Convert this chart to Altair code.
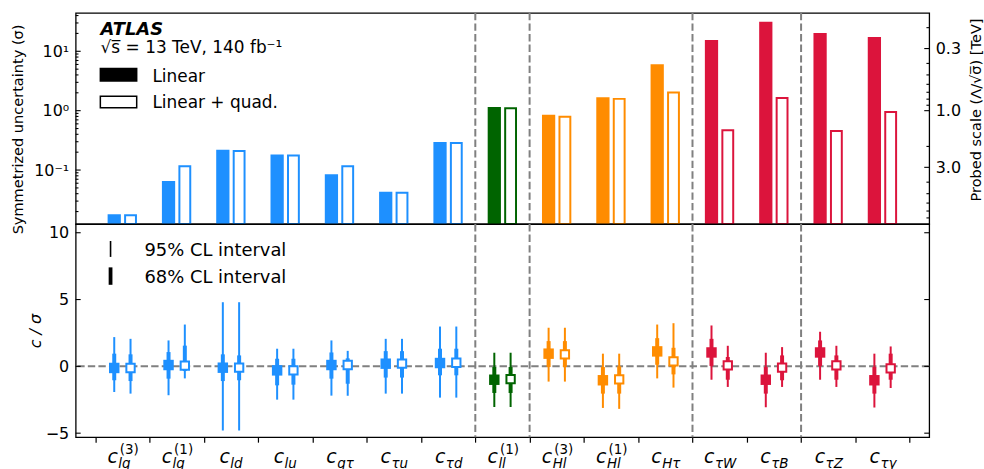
import altair as alt
import pandas as pd

FONT = "DejaVu Sans"

# Wilson coefficients c_{sub}^{sup}, grouped by operator class
op_sub = ["lq", "lq", "ld", "lu", "qτ", "τu", "τd", "ll", "Hl", "Hl", "Hτ", "τW", "τB", "τZ", "τγ"]
op_sup = ["(3)", "(1)", "", "", "", "", "", "(1)", "(3)", "(1)", "", "", "", "", ""]
op_group = ["lq"] * 7 + ["ll"] + ["Hl"] * 3 + ["dipole"] * 4
group_names = ["lq", "ll", "Hl", "dipole"]
group_colors = ["#1e90ff", "#006400", "#ff8c00", "#dc143c"]
group_edges = [7, 8, 11, 13]

# Symmetrized 68% CL uncertainty on each coefficient
sigma_linear = [0.0181, 0.0654, 0.219, 0.183, 0.0847, 0.0433, 0.298, 1.15, 0.857, 1.69, 6.04, 15.5, 31.3, 20.3, 17.4]
sigma_quad = [0.0174, 0.116, 0.21, 0.176, 0.116, 0.0416, 0.286, 1.10, 0.79, 1.58, 2.02, 0.467, 1.64, 0.454, 0.946]

# Best fit and CL intervals in units of sigma (linear fit)
best_linear = [-0.12, 0.1, -0.1, -0.3, 0.1, 0.2, 0.25, -1.0, 0.95, -1.04, 1.12, 1.04, -1.0, 1.04, -1.04]
lo68_linear = [-1.04, -0.92, -1.1, -1.42, -0.92, -0.84, -0.67, -1.99, -0.05, -2.04, 0.12, 0.03, -2.04, 0.03, -2.04]
hi68_linear = [0.95, 1.07, 0.9, 0.57, 1.04, 1.14, 1.32, -0.05, 1.89, -0.05, 2.11, 2.06, -0.05, 1.94, -0.05]
lo95_linear = [-1.92, -2.16, -4.8, -2.49, -2.19, -2.04, -2.34, -3.04, -1.14, -3.11, -0.9, -1.0, -3.06, -1.0, -3.08]
hi95_linear = [2.19, 1.94, 4.8, 1.32, 1.94, 2.06, 2.98, 1.02, 2.89, 0.95, 3.13, 3.06, 1.02, 2.59, 0.95]

# Best fit and CL intervals in units of sigma (linear + quadratic fit)
best_quad = [-0.12, 0.05, -0.1, -0.3, 0.1, 0.2, 0.27, -0.95, 0.9, -0.97, 0.37, 0.07, -0.1, 0.07, -0.15]
lo68_quad = [-1.1, -0.35, -1.04, -1.37, -1.3, -0.84, -0.67, -1.99, -0.05, -2.04, -0.6, -1.0, -1.04, -1.0, -1.0]
hi68_quad = [0.9, 1.55, 0.82, 0.57, 0.6, 1.14, 1.32, -0.05, 1.89, 0.0, 1.39, 0.7, 0.82, 0.82, 0.95]
lo95_quad = [-2.04, -0.9, -4.8, -2.49, -2.2, -2.04, -2.34, -3.04, -1.14, -3.18, -1.59, -1.54, -1.54, -1.54, -1.62]
hi95_quad = [2.06, 3.13, 4.8, 1.32, 1.16, 2.06, 2.98, 1.02, 2.89, 0.95, 3.23, 1.54, 1.44, 1.54, 1.49]

# ---------------------------------------------------------------- geometry
W = 857
H_TOP = 212
H_BOT = 214
X_DOMAIN = [-0.36, 15.36]
PX_PER_UNIT = W / (X_DOMAIN[1] - X_DOMAIN[0])
FIT_SHIFT = 0.15
n = len(op_sub)

xs = alt.Scale(domain=X_DOMAIN, nice=False, zero=False)
ys_top = alt.Scale(type="log", domain=[0.01232, 44.3], nice=False)
ys_bot = alt.Scale(domain=[-5.3, 10.65], nice=False, zero=False)
col_scale = alt.Scale(domain=group_names, range=group_colors)


def bar_frame(values, shift, half):
    centers = [i + 0.5 + shift for i in range(n)]
    return pd.DataFrame({
        "group": op_group, "val": values,
        "x0": [c - half for c in centers], "x1": [c + half for c in centers],
    })


def point_frame(best, lo68, hi68, lo95, hi95, shift):
    return pd.DataFrame({
        "group": op_group, "xc": [i + 0.5 + shift for i in range(n)],
        "best": best, "lo68": lo68, "hi68": hi68, "lo95": lo95, "hi95": hi95,
    })


bars_lin_df = bar_frame(sigma_linear, -FIT_SHIFT, 0.122)
bars_quad_df = bar_frame(sigma_quad, FIT_SHIFT, 0.10)
pts_lin_df = point_frame(best_linear, lo68_linear, hi68_linear, lo95_linear, hi95_linear, -FIT_SHIFT)
pts_quad_df = point_frame(best_quad, lo68_quad, hi68_quad, lo95_quad, hi95_quad, FIT_SHIFT)
edges_df = pd.DataFrame({"edge": group_edges})
one_row = pd.DataFrame({"d": [0]})

DASH = [7.4, 3.2]
GREY = "#808080"


def text_mark(txt, x, y, size, **kw):
    return alt.Chart(pd.DataFrame({"t": [txt]})).mark_text(
        align="left", baseline="alphabetic", font=FONT, fontSize=size, color="black", **kw
    ).encode(text="t:N", x=alt.value(x), y=alt.value(y))


def tick_layer(values, x_from, x_to, scale, axis=None):
    return alt.Chart(pd.DataFrame({"v": values})).mark_rule(color="black", strokeWidth=1.1).encode(
        y=alt.Y("v:Q", scale=scale, axis=axis), x=alt.value(x_from), x2=alt.value(x_to)
    )


def separators():
    return alt.Chart(edges_df).mark_rule(color=GREY, strokeWidth=2, strokeDash=DASH).encode(
        x=alt.X("edge:Q", scale=xs, axis=None)
    )


# ---------------------------------------------------------------- upper panel
log_major = [0.1, 1, 10]
log_minor = [k * 10.0 ** e for e in (-2, -1, 0, 1) for k in range(2, 10) if 0.0124 < k * 10.0 ** e < 44]
scale_major = [1 / 0.3 ** 2, 1.0, 1 / 3.0 ** 2]
scale_minor = [1 / lam ** 2 for lam in (0.2, 0.4, 0.5, 0.6, 0.7, 0.8, 0.9, 2, 4, 5, 6, 7, 8)]

left_axis_top = alt.Axis(
    orient="left", values=log_major, grid=False, domain=False, ticks=False, tickSize=0,
    labelExpr="datum.value > 5 ? '10¹' : (datum.value > 0.5 ? '10⁰' : '10⁻¹')",
    labelFontSize=16, labelPadding=7, labelFlush=False,
    title="Symmetrized uncertainty (σ)", titleFontSize=14.6, titleAngle=270,
    titleX=-53, titleY=116.5, titleBaseline="alphabetic", titleAlign="center",
)
right_axis_top = alt.Axis(
    orient="right", values=scale_major, grid=False, domain=False, ticks=False, tickSize=0,
    labelExpr="datum.value > 5 ? '0.3' : (datum.value > 0.5 ? '1.0' : '3.0')",
    labelFontSize=16, labelPadding=6, labelFlush=False,
    title="Probed scale (Λ/√σ̅) [TeV]", titleFontSize=14.6, titleAngle=270,
    titleX=51, titleY=97, titleBaseline="alphabetic", titleAlign="center",
)

frame_box = alt.Chart(one_row).mark_rect(opacity=0).encode(
    x=alt.value(-75), x2=alt.value(W + 52), y=alt.value(-11), y2=alt.value(H_TOP)
)

bars_lin = alt.Chart(bars_lin_df).mark_bar(clip=True).encode(
    x=alt.X("x0:Q", scale=xs, axis=None), x2="x1:Q",
    y=alt.Y("val:Q", scale=ys_top, axis=left_axis_top), y2=alt.value(H_TOP),
    color=alt.Color("group:N", scale=col_scale, legend=None),
)
bars_quad = alt.Chart(bars_quad_df).mark_bar(clip=True, fill="white", strokeWidth=2).encode(
    x=alt.X("x0:Q", scale=xs, axis=None), x2="x1:Q",
    y=alt.Y("val:Q", scale=ys_top, axis=None), y2=alt.value(H_TOP),
    stroke=alt.Color("group:N", scale=col_scale, legend=None),
)

top_ticks = [
    tick_layer(log_major, 0, 5, ys_top),
    tick_layer(log_minor, 0, 2.8, ys_top),
    tick_layer(scale_major, W - 5, W, ys_top, axis=right_axis_top),
    tick_layer(scale_minor, W - 2.8, W, ys_top),
]

top_legend = [
    text_mark("ATLAS", 25, 21.7, 18, fontWeight="bold", fontStyle="italic"),
    text_mark("√s̅ = 13 TeV, 140 fb⁻¹", 25, 40.5, 17),
    alt.Chart(one_row).mark_rect(color="black").encode(
        x=alt.value(24), x2=alt.value(62), y=alt.value(55), y2=alt.value(69)),
    alt.Chart(one_row).mark_rect(fill="white", stroke="black", strokeWidth=1.5).encode(
        x=alt.value(24.75), x2=alt.value(61.25), y=alt.value(83.75), y2=alt.value(95.25)),
    text_mark("Linear", 77, 69, 17),
    text_mark("Linear + quad.", 77, 95.7, 17),
]

top = alt.layer(
    frame_box, separators(), bars_lin, bars_quad, *top_ticks, *top_legend
).resolve_axis(y="independent").properties(width=W, height=H_TOP)

# ---------------------------------------------------------------- lower panel
left_axis_bot = alt.Axis(
    orient="left", values=[-5, 0, 5, 10], grid=False, domain=False, ticks=False, tickSize=0,
    labelFontSize=16, labelPadding=7, labelFlush=False,
    title="c / σ", titleFontSize=16, titleFontStyle="italic", titleAngle=270,
    titleX=-35, titleY=107, titleBaseline="alphabetic", titleAlign="center",
)
bottom_axis = alt.Axis(
    orient="bottom", values=list(range(16)), labels=False, grid=False, domain=False,
    tickSize=5, tickColor="black", tickWidth=1.2, title=None,
)

zero_line = alt.Chart(pd.DataFrame({"z": [0]})).mark_rule(
    color=GREY, strokeWidth=2, strokeDash=DASH
).encode(y=alt.Y("z:Q", scale=ys_bot, axis=left_axis_bot))


def interval_layers(df, first=False):
    c95 = alt.Chart(df).mark_rule(strokeWidth=2).encode(
        x=alt.X("xc:Q", scale=xs, axis=bottom_axis if first else None),
        y=alt.Y("lo95:Q", scale=ys_bot, axis=None), y2="hi95:Q",
        color=alt.Color("group:N", scale=col_scale, legend=None),
    )
    c68 = alt.Chart(df).mark_rule(strokeWidth=4).encode(
        x=alt.X("xc:Q", scale=xs, axis=None), y=alt.Y("lo68:Q", scale=ys_bot, axis=None), y2="hi68:Q",
        color=alt.Color("group:N", scale=col_scale, legend=None),
    )
    return [c95, c68]


pts_lin = alt.Chart(pts_lin_df).mark_square(size=110, opacity=1).encode(
    x=alt.X("xc:Q", scale=xs, axis=None), y=alt.Y("best:Q", scale=ys_bot, axis=None),
    color=alt.Color("group:N", scale=col_scale, legend=None),
)
pts_quad = alt.Chart(pts_quad_df).mark_square(size=70, filled=True, fill="white", strokeWidth=2, opacity=1).encode(
    x=alt.X("xc:Q", scale=xs, axis=None), y=alt.Y("best:Q", scale=ys_bot, axis=None),
    stroke=alt.Color("group:N", scale=col_scale, legend=None),
)

# Category labels c_{sub}^{sup}, centred under each bin
FS_MAIN, FS_SCRIPT = 19, 13.5
CHAR_W = {"l": 0.278, "q": 0.635, "d": 0.635, "u": 0.634, "τ": 0.525, "H": 0.752, "W": 0.989,
          "B": 0.686, "Z": 0.685, "γ": 0.592, "(": 0.39, ")": 0.39, "1": 0.636, "3": 0.636}
main_w = 0.55 * FS_MAIN + 0.5
lab_main, lab_sub, lab_sup = [], [], []
for i in range(n):
    sub_w = sum(CHAR_W[ch] for ch in op_sub[i]) * FS_SCRIPT
    sup_w = sum(CHAR_W[ch] for ch in op_sup[i]) * FS_SCRIPT
    start = -(main_w + max(sub_w, sup_w)) / 2
    cx = i + 0.5
    lab_main.append({"t": "c", "xl": cx + start / PX_PER_UNIT})
    lab_sub.append({"t": op_sub[i], "xl": cx + (start + main_w) / PX_PER_UNIT})
    if op_sup[i]:
        lab_sup.append({"t": op_sup[i], "xl": cx + (start + main_w + 1.5) / PX_PER_UNIT})


def label_layer(rows, size, y, **kw):
    return alt.Chart(pd.DataFrame(rows)).mark_text(
        align="left", baseline="alphabetic", font=FONT, fontSize=size, color="black", **kw
    ).encode(x=alt.X("xl:Q", scale=xs, axis=None), y=alt.value(y), text="t:N")


lab_c = label_layer(lab_main, FS_MAIN, 240, fontStyle="italic")
lab_s = label_layer(lab_sub, FS_SCRIPT, 245, fontStyle="italic")
lab_p = label_layer(lab_sup, FS_SCRIPT, 231)

bot_ticks = [
    tick_layer([-5, 0, 5, 10], 0, 5, ys_bot),
    tick_layer([-5, 0, 5, 10], W - 5, W, ys_bot),
]

bot_legend = [
    alt.Chart(one_row).mark_rule(color="black", strokeWidth=1.6).encode(
        x=alt.value(35), y=alt.value(17), y2=alt.value(33)),
    alt.Chart(one_row).mark_rule(color="black", strokeWidth=3.8).encode(
        x=alt.value(35), y=alt.value(43.5), y2=alt.value(61)),
    text_mark("95% CL interval", 69, 32, 18),
    text_mark("68% CL interval", 69, 58.7, 18),
]

bottom = alt.layer(
    zero_line, separators(),
    *interval_layers(pts_lin_df, first=True), *interval_layers(pts_quad_df),
    pts_lin, pts_quad, lab_c, lab_s, lab_p, *bot_ticks, *bot_legend
).resolve_axis(x="independent", y="independent").properties(width=W, height=H_BOT)

chart = alt.vconcat(top, bottom, spacing=0, bounds="flush").properties(
    padding=0, background="white"
).configure_view(
    stroke="black", strokeWidth=1.3
).configure_axis(
    labelFont=FONT, titleFont=FONT, labelColor="black", titleColor="black", titleFontWeight="normal"
)

chart.save("out.html", embed_options={"renderer": "svg", "actions": False})
